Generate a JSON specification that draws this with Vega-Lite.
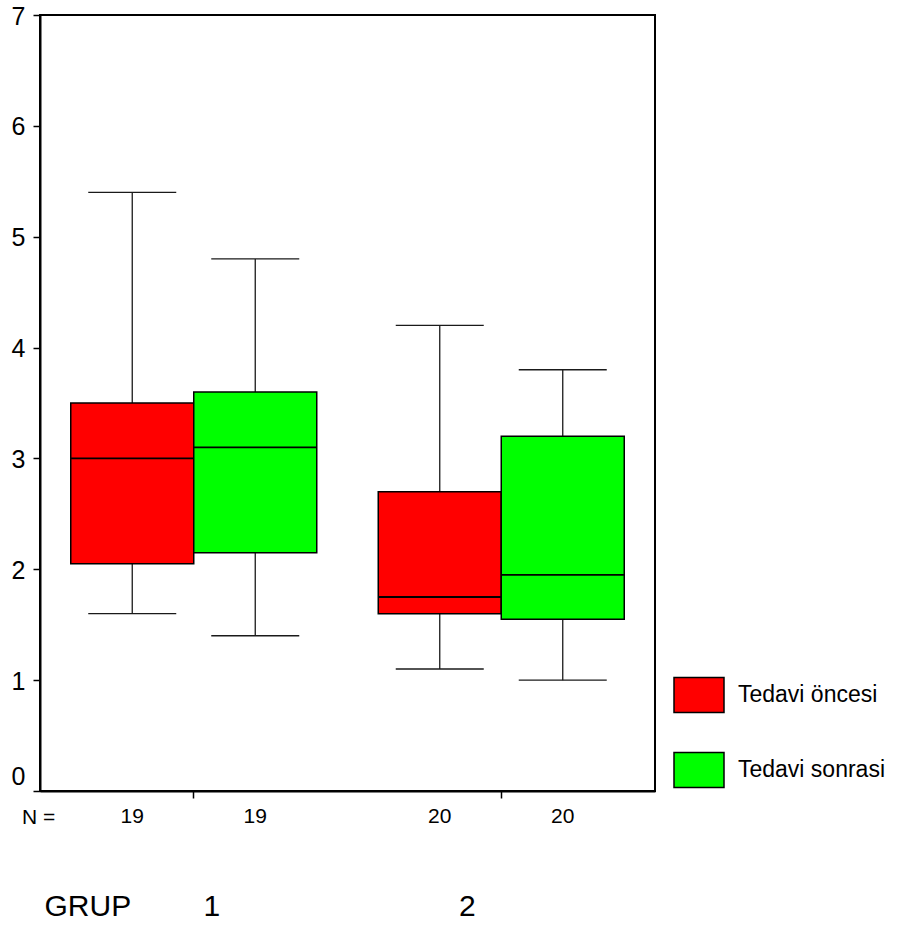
{
  "$schema": "https://vega.github.io/schema/vega-lite/v6.json",
  "autosize": "none",
  "padding": {"left": 40, "top": 15, "right": 257, "bottom": 137},
  "width": 615,
  "height": 776,
  "background": "white",
  "config": {
    "font": "Liberation Sans",
    "view": {"stroke": "black", "strokeWidth": 2},
    "axis": {"grid": false, "domainColor": "black", "domainWidth": 2, "tickColor": "black", "tickWidth": 1.5, "tickSize": 7, "labelColor": "black", "titleColor": "black", "labelFont": "Liberation Sans", "titleFont": "Liberation Sans", "titleFontWeight": "normal"},
    "axisY": {"tickCount": 7, "labelFontSize": 25, "labelPadding": 8, "titleFontSize": 21, "titleAngle": 0, "titleAlign": "center", "titleBaseline": "alphabetic", "titleX": -2, "titleY": 808}
  },
  "data": {
    "values": [
      {"grup": "1", "tedavi": "Tedavi öncesi", "lower": 1.6, "q1": 2.05, "median": 3.0, "q3": 3.5, "upper": 5.4, "n": "19"},
      {"grup": "1", "tedavi": "Tedavi sonrasi", "lower": 1.4, "q1": 2.15, "median": 3.1, "q3": 3.6, "upper": 4.8, "n": "19"},
      {"grup": "2", "tedavi": "Tedavi öncesi", "lower": 1.1, "q1": 1.6, "median": 1.75, "q3": 2.7, "upper": 4.2, "n": "20"},
      {"grup": "2", "tedavi": "Tedavi sonrasi", "lower": 1.0, "q1": 1.55, "median": 1.95, "q3": 3.2, "upper": 3.8, "n": "20"}
    ]
  },
  "encoding": {
    "x": {
      "field": "grup", "type": "nominal",
      "scale": {"paddingInner": 0, "paddingOuter": 0},
      "axis": {
        "labelAngle": 0, "labelFontSize": 30, "labelBaseline": "alphabetic", "labelPadding": 117,
        "labelOffset": {"condition": {"test": "datum.value == '1'", "value": 18}, "value": -34},
        "title": "GRUP", "titleFontSize": 30, "titleAnchor": "start", "titleAlign": "left", "titleBaseline": "alphabetic", "titleX": 4, "titleY": 124, "titleAngle": 0
      }
    },
    "xOffset": {"field": "tedavi", "type": "nominal", "sort": ["Tedavi öncesi", "Tedavi sonrasi"], "scale": {"paddingInner": 0, "paddingOuter": 0.25}}
  },
  "layer": [
    {
      "mark": {"type": "rule", "color": "#1a1a1a", "strokeWidth": 1.3},
      "encoding": {
        "y": {"field": "lower", "type": "quantitative", "scale": {"domain": [0, 7], "nice": false},
          "axis": {"title": "N =", "labelOffset": {"condition": {"test": "datum.value == 0", "value": -15}, "value": 1}}},
        "y2": {"field": "upper"}
      }
    },
    {
      "mark": {"type": "bar", "stroke": "black", "strokeWidth": 1.5, "opacity": 1},
      "encoding": {
        "y": {"field": "q1", "type": "quantitative", "axis": {"title": "N ="}},
        "y2": {"field": "q3"},
        "color": {
          "field": "tedavi", "type": "nominal",
          "scale": {"domain": ["Tedavi öncesi", "Tedavi sonrasi"], "range": ["#ff0000", "#00ff00"]},
          "legend": {
            "orient": "none", "legendX": 633, "legendY": 654, "title": null, "padding": 0,
            "symbolType": "M-1,-0.7H1V0.7H-1Z", "symbolSize": 2500, "symbolStrokeColor": "black", "symbolStrokeWidth": 1.5, "symbolOpacity": 1,
            "labelFontSize": 23, "labelColor": "black", "labelOffset": 13, "rowPadding": 28, "labelFont": "Liberation Sans", "labelLimit": 300
          }
        }
      }
    },
    {
      "mark": {"type": "tick", "color": "black", "size": 123, "thickness": 1.8, "opacity": 1},
      "encoding": {"y": {"field": "median", "type": "quantitative", "axis": {"title": "N ="}}}
    },
    {
      "mark": {"type": "tick", "color": "#1a1a1a", "size": 88, "thickness": 1.4, "opacity": 1},
      "encoding": {"y": {"field": "lower", "type": "quantitative", "axis": {"title": "N ="}}}
    },
    {
      "mark": {"type": "tick", "color": "#1a1a1a", "size": 88, "thickness": 1.4, "opacity": 1},
      "encoding": {"y": {"field": "upper", "type": "quantitative", "axis": {"title": "N ="}}}
    },
    {
      "mark": {"type": "text", "y": "height", "dy": 32, "baseline": "alphabetic", "align": "center", "fontSize": 21, "color": "black"},
      "encoding": {"text": {"field": "n"}}
    }
  ]
}
